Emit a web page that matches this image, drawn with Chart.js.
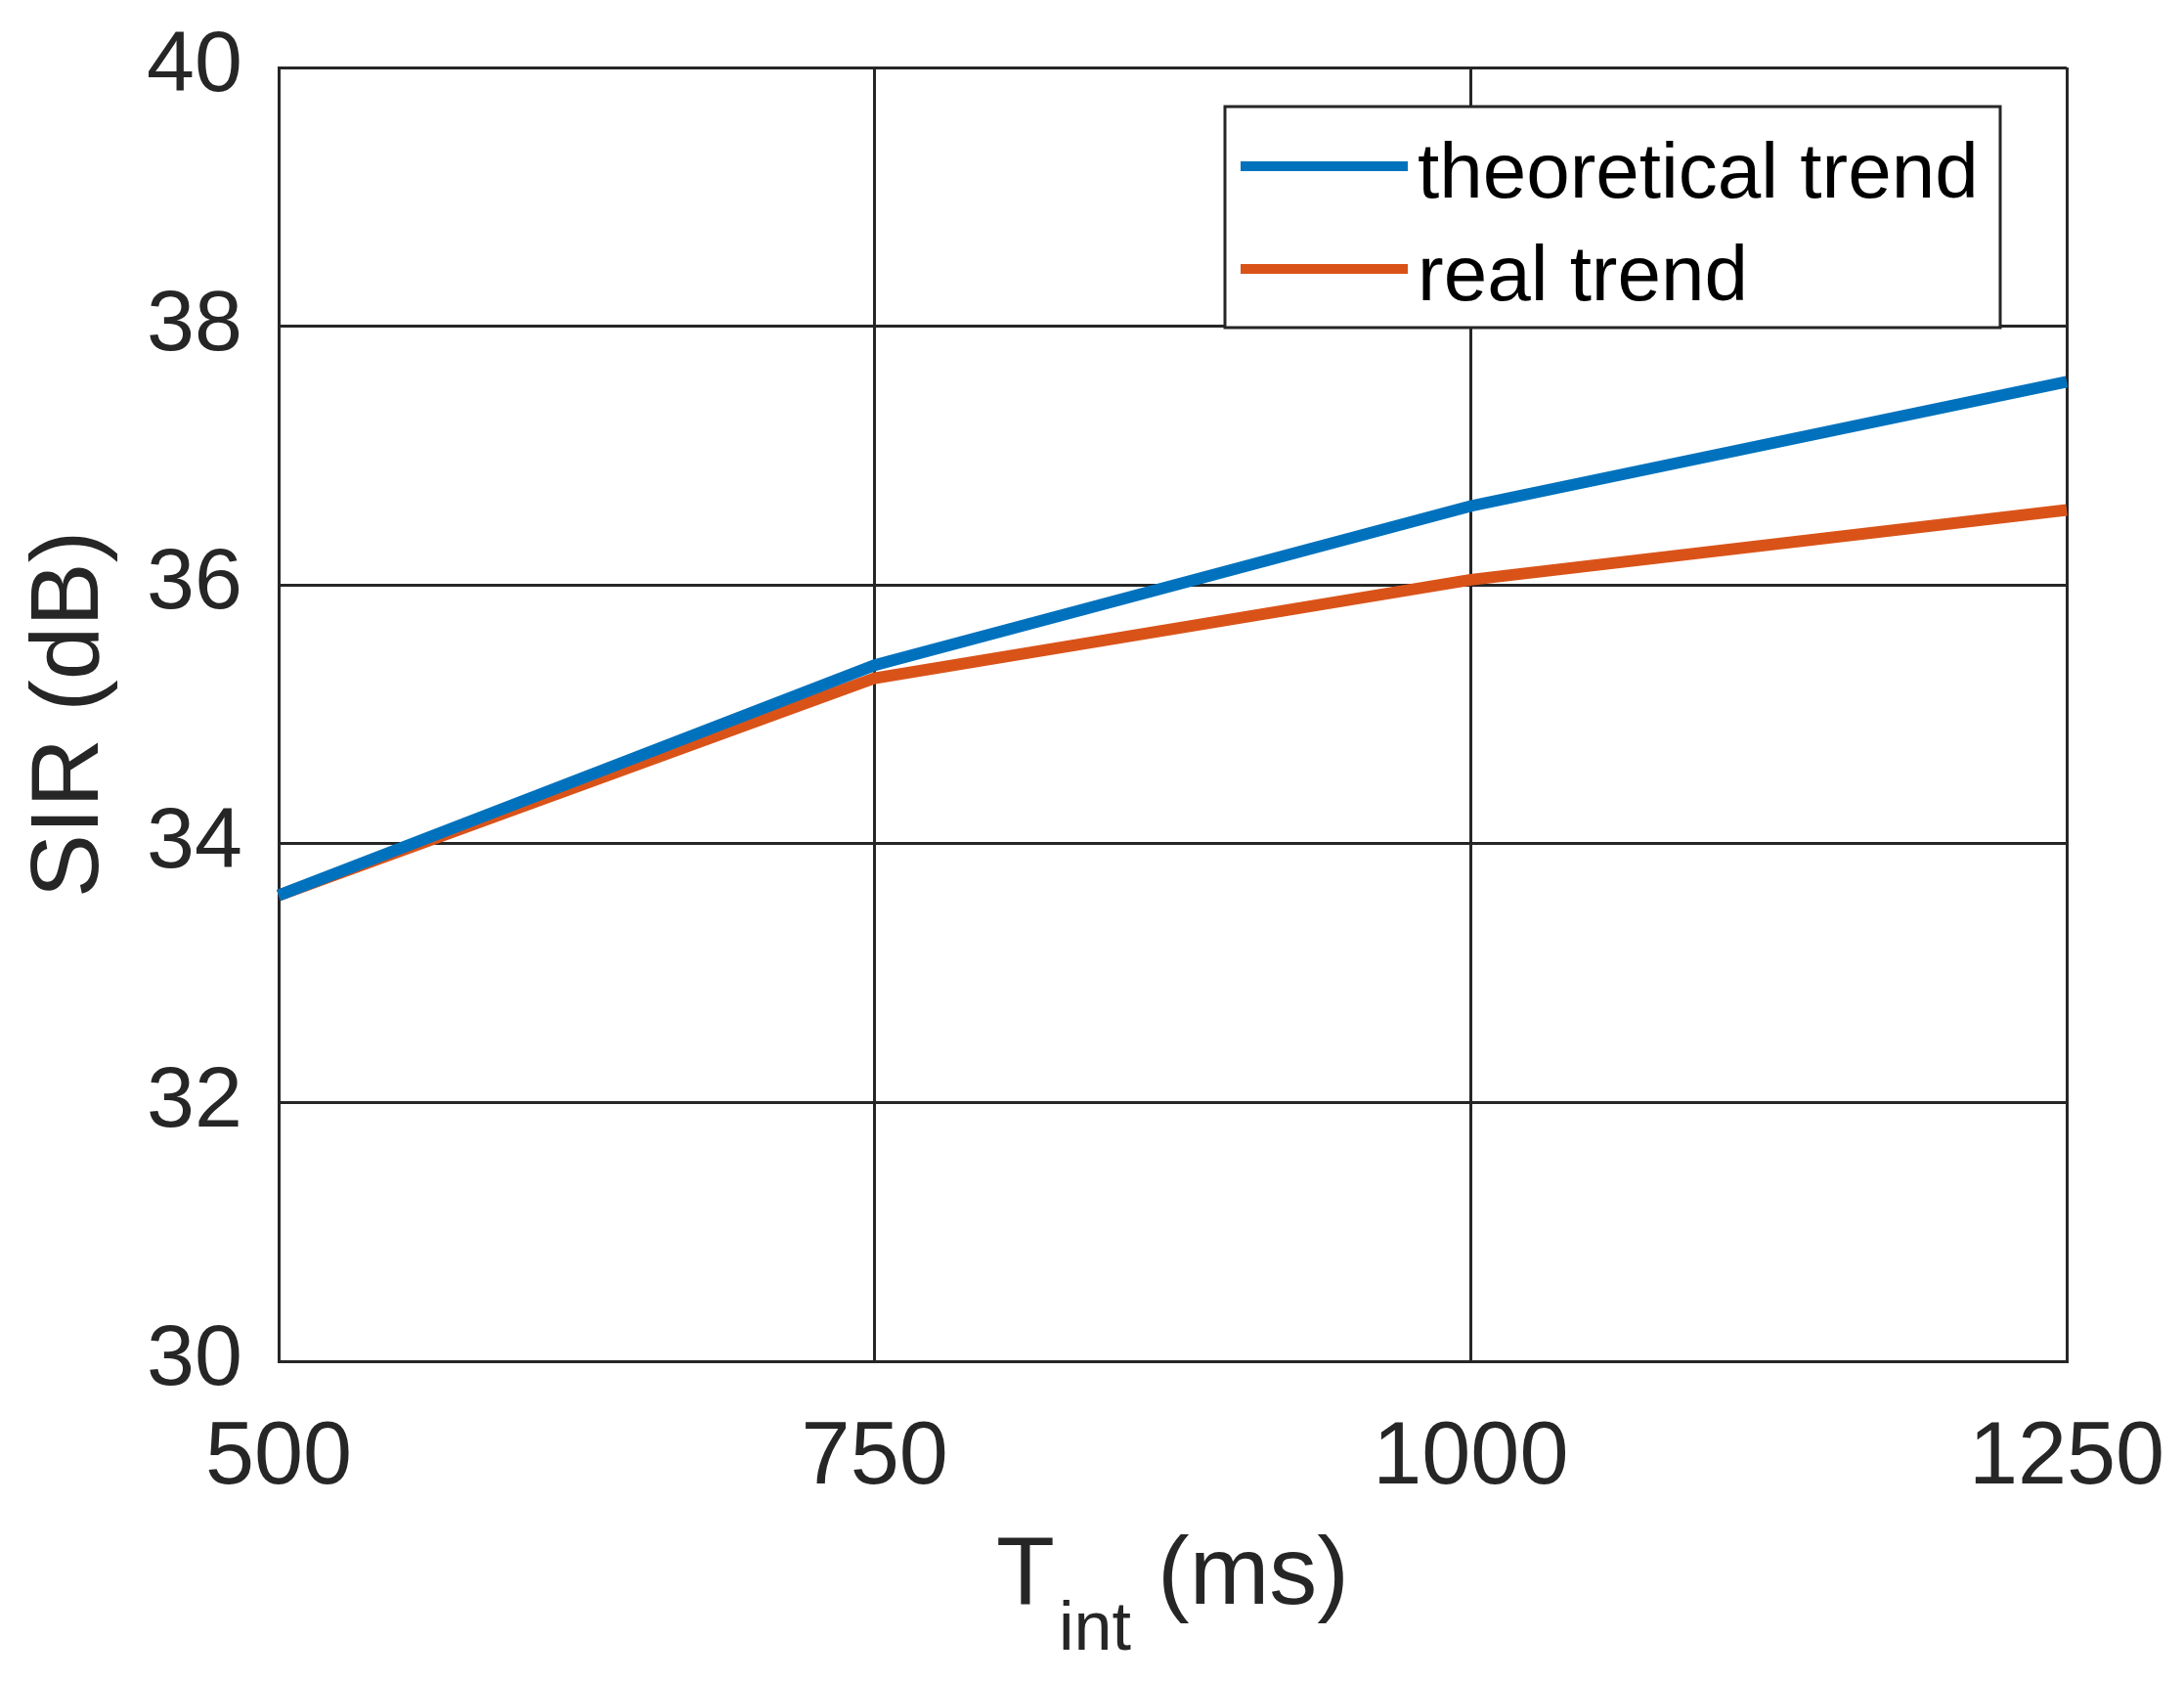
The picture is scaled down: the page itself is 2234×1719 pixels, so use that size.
<!DOCTYPE html>
<html>
<head>
<meta charset="utf-8">
<title>SIR vs Tint</title>
<script src="https://cdn.jsdelivr.net/npm/chart.js@4/dist/chart.umd.min.js"></script>
<style>
    body { margin: 0; background: #ffffff; }
    canvas { display: block; }
</style>
</head>
<body>
<canvas id="sirPlot" width="2234" height="1719"></canvas>
<script>
// Data
var tint = [500, 750, 1000, 1250];
var theoreticalTrend = [33.6, 35.38, 36.61, 37.57];
var realTrend = [33.6, 35.28, 36.04, 36.58];
var seriesLabels = ['theoretical trend', 'real trend'];
var yTicks = [30, 32, 34, 36, 38, 40];
var xTicks = [500, 750, 1000, 1250];

var INK = '#262626';
var FONT = '"Liberation Sans", Arial, Helvetica, sans-serif';

function toPoints(xs, ys) {
    var pts = [];
    for (var i = 0; i < xs.length; i++)
        pts.push({x: xs[i], y: ys[i]});
    return pts;
}

// keep tick labels from pushing the plot box around
function noOverflow(scale) {
    scale.paddingLeft = 0;
    scale.paddingRight = 0;
    scale.paddingTop = 0;
    scale.paddingBottom = 0;
}

// Boxed legend in the upper right corner, like MATLAB draws it
var boxLegend = {
    id: 'boxLegend',
    afterDatasetsDraw: function(chart) {
        var ctx = chart.ctx;
        var area = chart.chartArea;
        var right = area.right - 68;
        var top = area.top + 40;
        var w = 793, h = 226;
        var left = right - w;

        ctx.save();
        ctx.fillStyle = '#ffffff';
        ctx.fillRect(left, top, w, h);
        ctx.strokeStyle = INK;
        ctx.lineWidth = 3;
        ctx.strokeRect(left, top, w, h);

        ctx.font = '80px ' + FONT;
        ctx.textBaseline = 'alphabetic';
        ctx.textAlign = 'left';
        chart.data.datasets.forEach(function(ds, i) {
            var yLine = top + 61 + i * 105;
            ctx.strokeStyle = ds.borderColor;
            ctx.lineWidth = 10;
            ctx.beginPath();
            ctx.moveTo(left + 16, yLine);
            ctx.lineTo(left + 187, yLine);
            ctx.stroke();
            ctx.fillStyle = '#000000';
            ctx.fillText(ds.label, left + 197, yLine + 32);
        });
        ctx.restore();
    }
};

// X axis title with the "int" subscript
var subscriptTitle = {
    id: 'subscriptTitle',
    afterDraw: function(chart) {
        var ctx = chart.ctx;
        var area = chart.chartArea;
        var base = area.bottom + 248;
        var big = '98px ' + FONT;
        var small = '70px ' + FONT;

        ctx.save();
        ctx.fillStyle = INK;
        ctx.textBaseline = 'alphabetic';
        ctx.textAlign = 'left';
        ctx.font = big;
        var wT = ctx.measureText('T').width;
        var wRest = ctx.measureText(' (ms)').width;
        ctx.font = small;
        var wSub = ctx.measureText('int').width;
        var total = wT + 4 + wSub + wRest;
        var x = (area.left + area.right) / 2 - total / 2;

        ctx.font = big;
        ctx.fillText('T', x, base);
        x += wT + 4;
        ctx.font = small;
        ctx.fillText('int', x, base + 47);
        x += wSub;
        ctx.font = big;
        ctx.fillText(' (ms)', x, base);
        ctx.restore();
    }
};

var sirPlot = new Chart(document.getElementById('sirPlot'), {
    type: 'line',
    data: {
        datasets: [{
            label: seriesLabels[0],
            data: toPoints(tint, theoreticalTrend),
            borderColor: '#0072BD',
            borderWidth: 12,
            pointRadius: 0,
            tension: 0,
            clip: false
        }, {
            label: seriesLabels[1],
            data: toPoints(tint, realTrend),
            borderColor: '#D95319',
            borderWidth: 12,
            pointRadius: 0,
            tension: 0,
            clip: false
        }]
    },
    options: {
        responsive: false,
        animation: false,
        layout: { padding: { top: 69, right: 120, left: 0, bottom: 0 } },
        plugins: {
            legend: { display: false },
            tooltip: { enabled: false }
        },
        scales: {
            x: {
                type: 'linear',
                min: 500,
                max: 1250,
                afterBuildTicks: function(scale) {
                    scale.ticks = xTicks.map(function(v) { return {value: v}; });
                },
                afterFit: function(scale) {
                    scale.height = 327;
                    noOverflow(scale);
                },
                grid: { color: INK, lineWidth: 3, drawTicks: false },
                border: { color: INK, width: 3 },
                ticks: {
                    color: INK,
                    padding: 46,
                    font: { size: 90, family: FONT },
                    maxRotation: 0,
                    callback: function(v) { return String(v); }
                }
            },
            y: {
                min: 30,
                max: 40,
                afterBuildTicks: function(scale) {
                    scale.ticks = yTicks.map(function(v) { return {value: v}; });
                },
                afterFit: function(scale) {
                    scale.width = 285;
                    noOverflow(scale);
                },
                grid: { color: INK, lineWidth: 3, drawTicks: false },
                border: { color: INK, width: 3 },
                ticks: {
                    color: INK,
                    padding: 37,
                    font: { size: 88, family: FONT },
                    callback: function(v) { return String(v); }
                },
                title: {
                    display: true,
                    text: 'SIR (dB)',
                    color: INK,
                    font: { size: 98, family: FONT },
                    padding: { top: 14, bottom: 0 }
                }
            }
        }
    },
    plugins: [boxLegend, subscriptTitle]
});
</script>
</body>
</html>
